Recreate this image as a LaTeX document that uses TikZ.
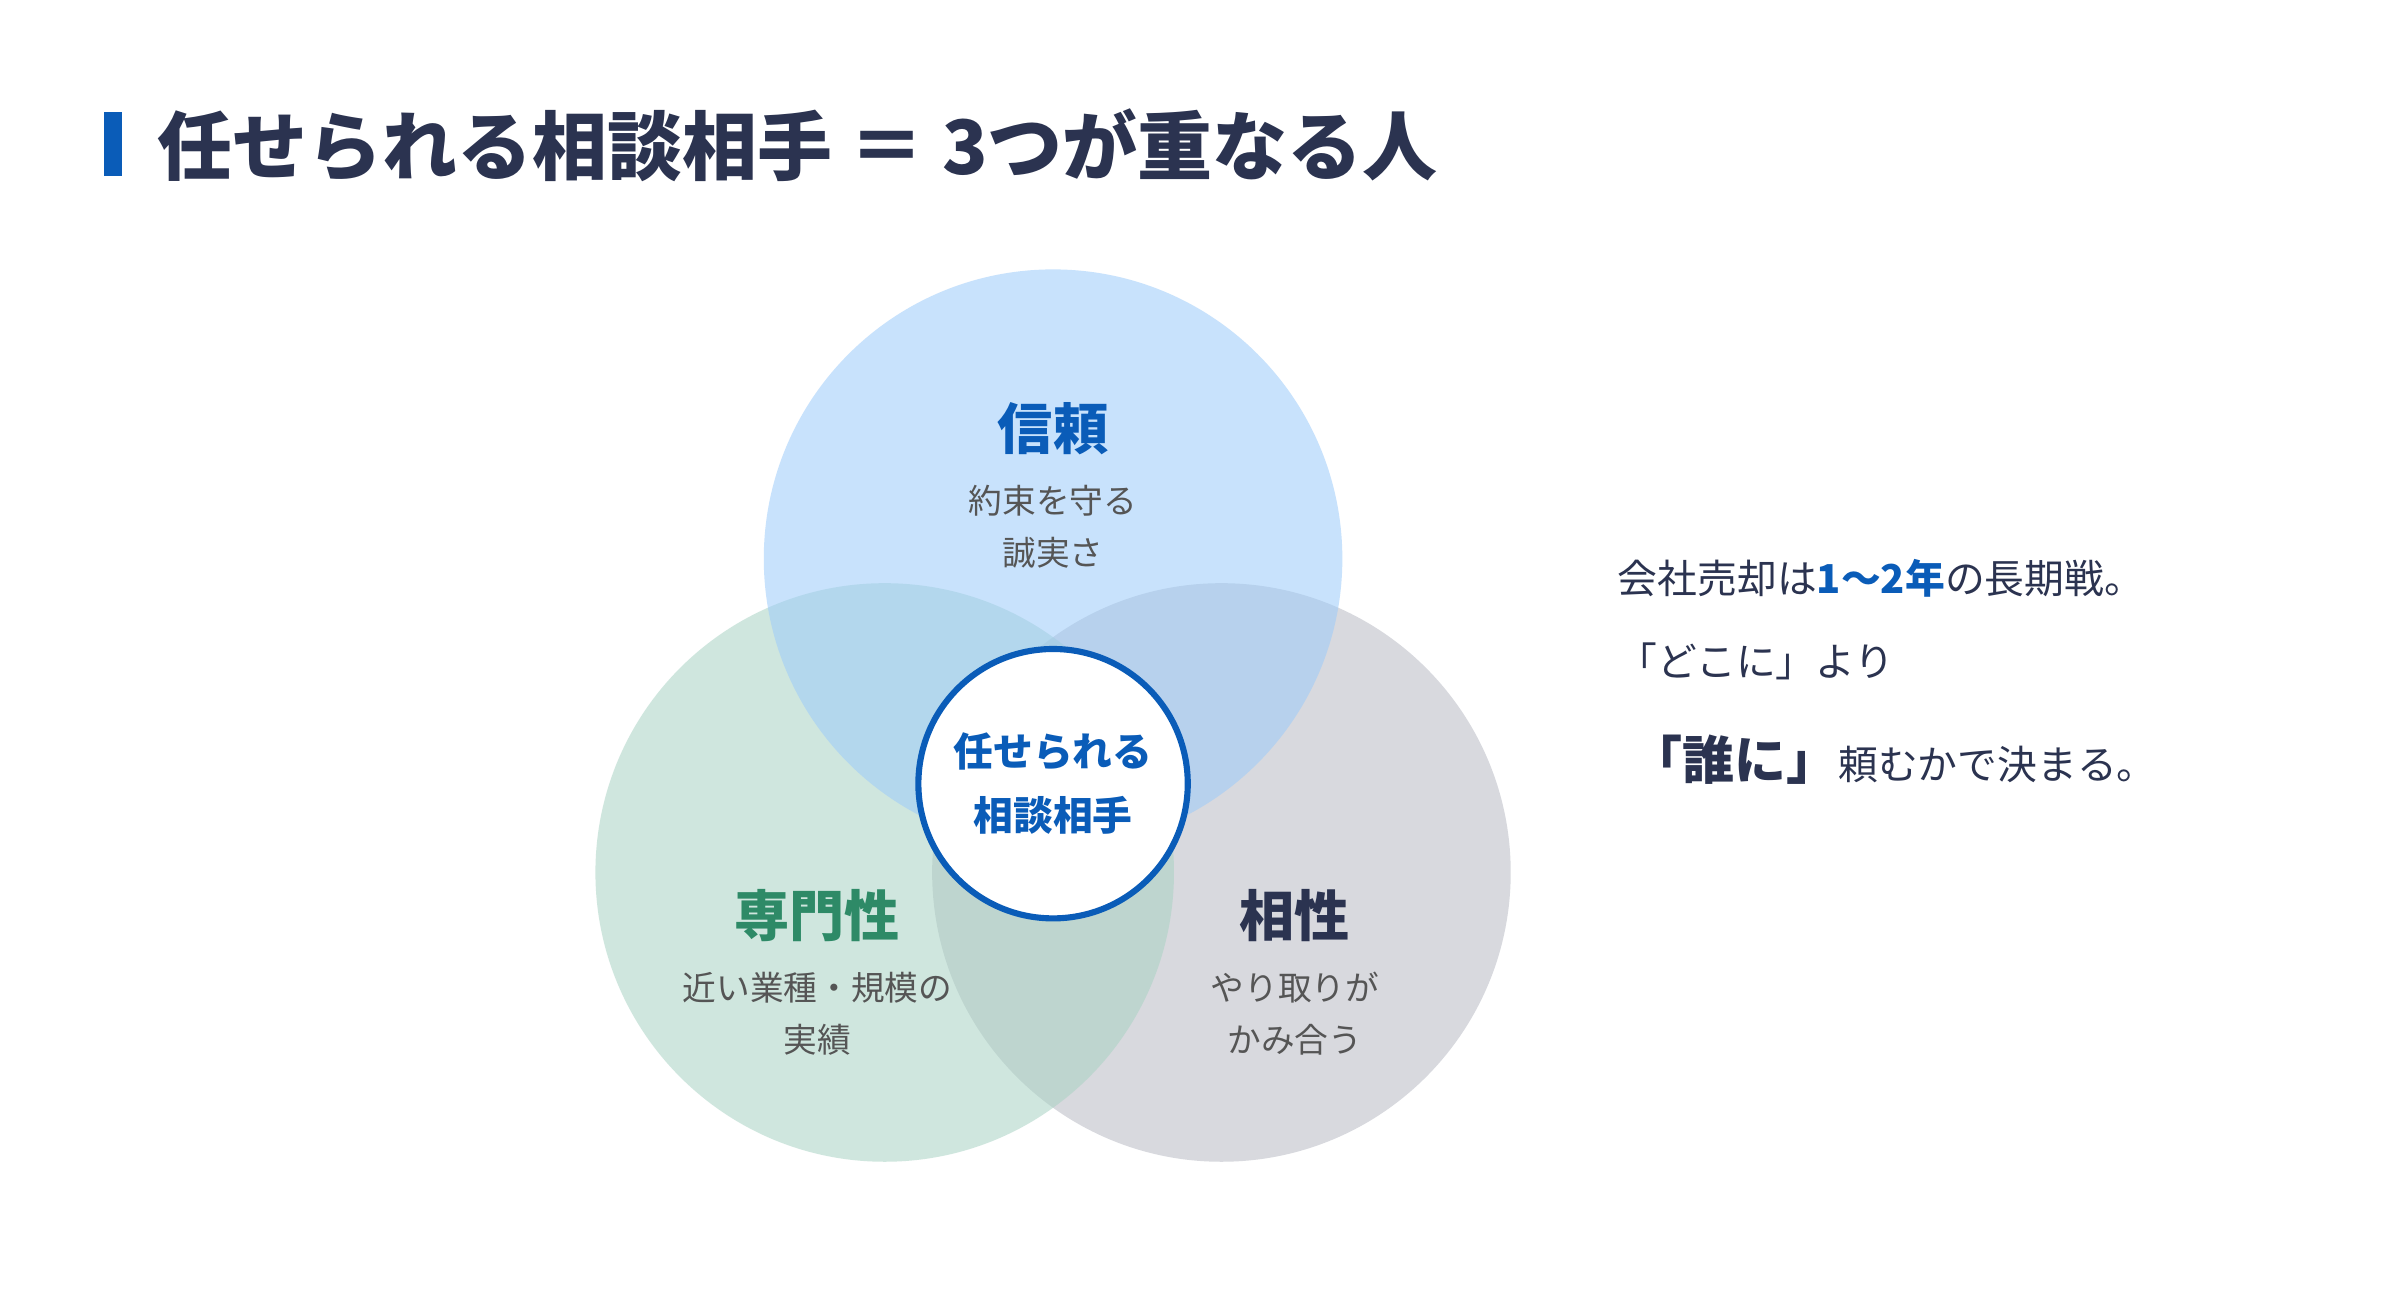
\documentclass[tikz,border=0pt]{standalone}
\usepackage{fontspec}
\setmainfont{Noto Sans CJK JP}
\definecolor{navy}{HTML}{2B3350}
\definecolor{blu}{HTML}{0A5CB8}
\definecolor{grn}{HTML}{2E8A67}
\definecolor{gry}{HTML}{555555}
\definecolor{cb}{HTML}{9CCBFA}
\definecolor{cg}{HTML}{A9D3C4}
\definecolor{cr}{HTML}{B8BAC4}
\tikzset{x=0.5pt,y=-0.5pt,
 circ/.style={circle,minimum size=378*0.5pt,inner sep=0,draw=none,fill opacity=0.55},
 head/.style={font=\fontsize{18}{20}\selectfont\bfseries},
 sub/.style={font=\fontsize{11}{17}\selectfont,text=gry,align=center},
 rt/.style={font=\fontsize{13}{15}\selectfont,text=navy,anchor=west}}
\begin{document}
\begin{tikzpicture}
\useasboundingbox (0,0) rectangle (1568,853);
\fill[white] (0,0) rectangle (1568,853);
\fill[blu] (68,73) rectangle (80,115);
\node[anchor=west,text=navy,font=\fontsize{24.5}{26}\selectfont\bfseries] (title) at (96,95) {任せられる相談相手 ＝ 3つが重なる人};
\node[circ,fill=cr] (r) at (798,570) {};
\node[circ,fill=cg] (l) at (578,570) {};
\node[circ,fill=cb] (t) at (688,365) {};
\node[head,text=blu] (th) at (688,280) {信頼};
\node[sub] (ts) at (688,344) {約束を守る\\誠実さ};
\node[head,text=grn] (lh) at (534,598) {専門性};
\node[sub] (ls) at (534,662) {近い業種・規模の\\実績};
\node[head,text=navy] (rh) at (846,598) {相性};
\node[sub] (rs) at (846,662) {やり取りが\\かみ合う};
\node[circle,fill=white,draw=blu,line width=2pt,minimum size=176*0.5pt,align=center,text=blu,
 font=\fontsize{13}{21}\selectfont\bfseries] (c) at (688,512) {任せられる\\相談相手};
\node[rt] (a1) at (1050,378) {会社売却は\textcolor{blu}{\bfseries 1〜2年}の長期戦。};
\node[rt] (a2) at (1050,432) {「どこに」より};
\node[rt] (a3) at (1058,496) {{\fontsize{17}{18}\selectfont\bfseries 「誰に」}頼むかで決まる。};
\end{tikzpicture}
\end{document}
